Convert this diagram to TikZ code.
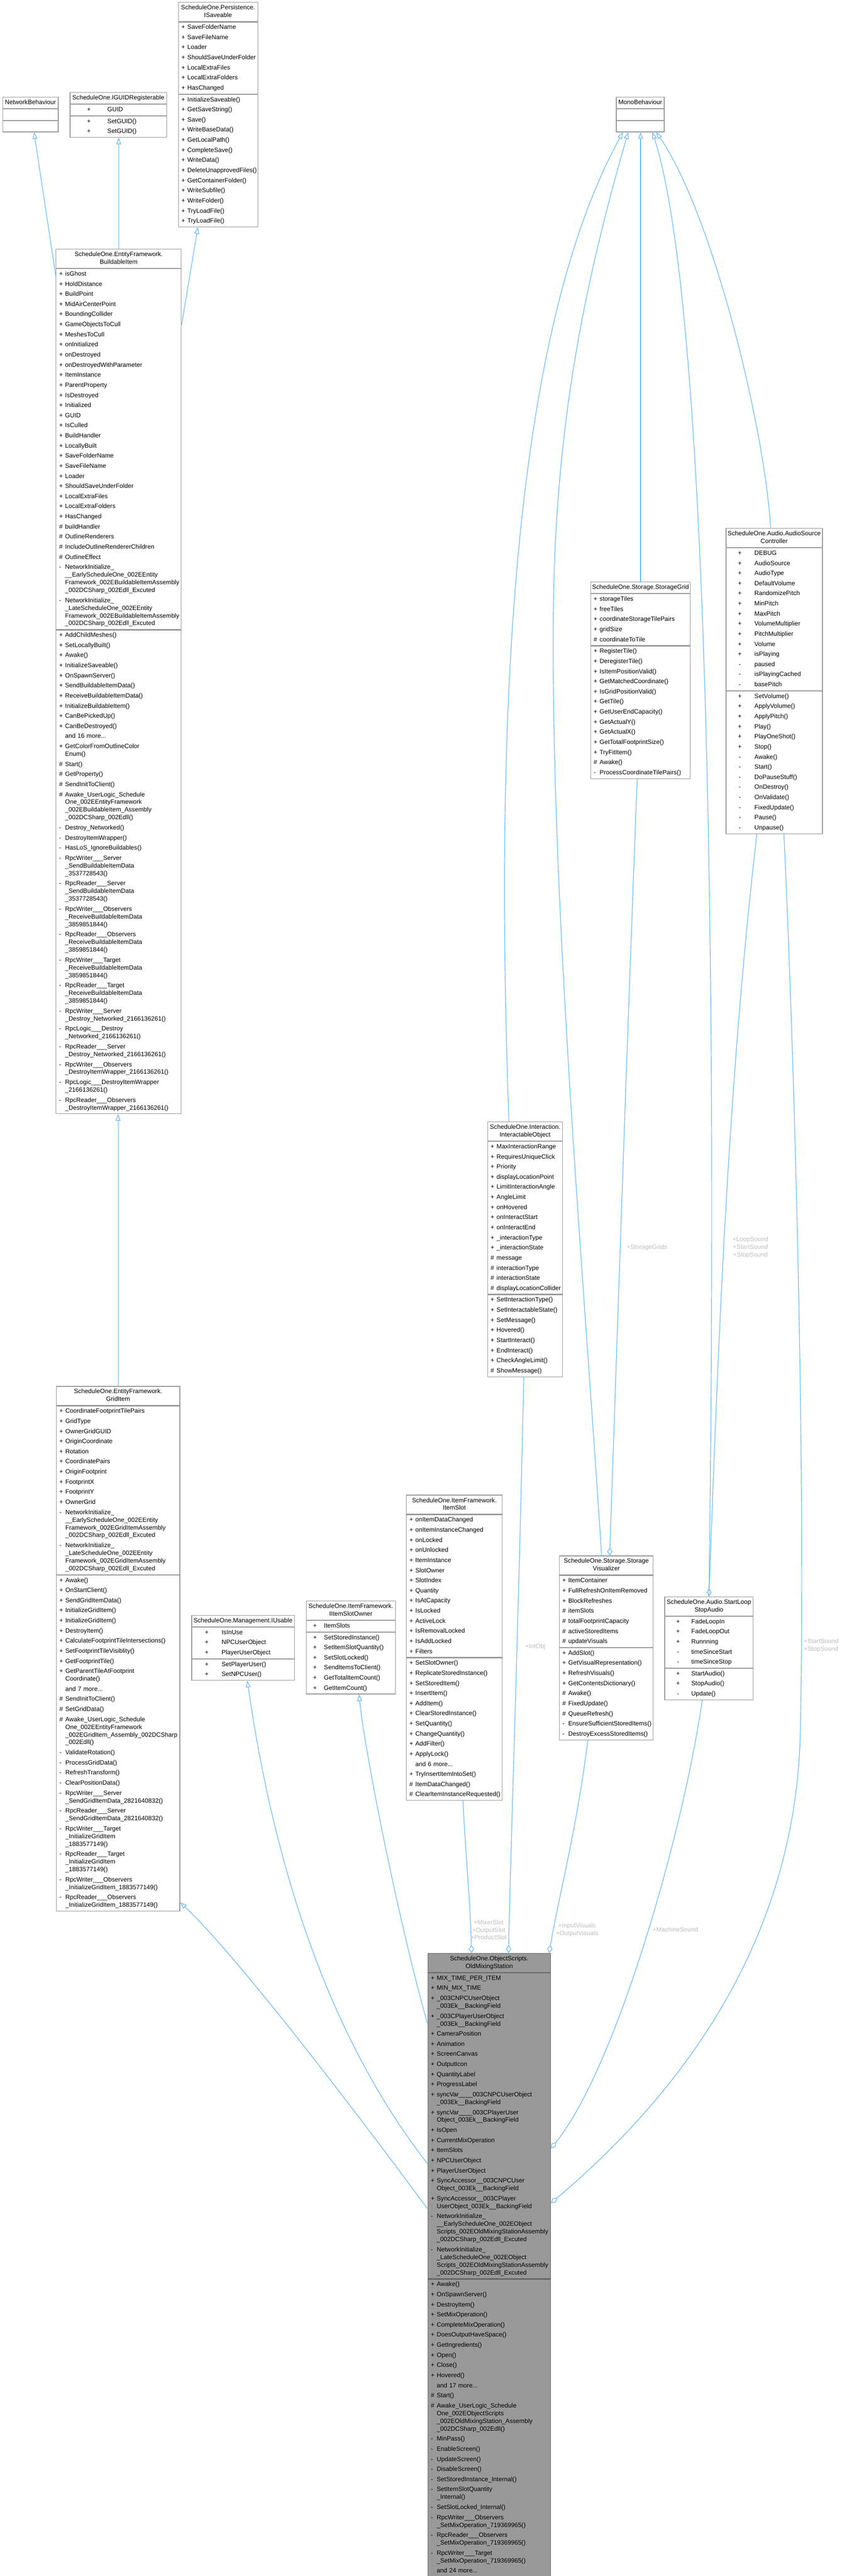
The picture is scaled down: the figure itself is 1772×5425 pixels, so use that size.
\documentclass[tikz,border=0pt]{standalone}
\usepackage{fontspec}
\setmainfont{Liberation Sans}
\usetikzlibrary{arrows.meta,calc}
\definecolor{boxc}{HTML}{999999}
\definecolor{mainb}{HTML}{666666}
\definecolor{mainf}{HTML}{999999}
\definecolor{edgec}{HTML}{63B8FF}
\definecolor{labc}{HTML}{BEBEBE}
\newcommand\bfnt{\fontsize{13.15}{16.2}\selectfont}
\newlength\tmA \newlength\tmB
\newcommand\mE[2]{\mbox{\strut\makebox[12.5pt][l]{#1}#2}}
\newcommand\mC[1]{\mbox{\strut\hspace*{12.5pt}#1}}
\newcommand\mT[2]{\mbox{\strut\hspace*{\tmA}\makebox[0pt][c]{#1}\hspace*{\tmB}#2}}
\newcommand\mN{\\[5.1pt]}
\newcommand\tset[2]{\setlength\tmA{#1pt}\setlength\tmB{#2pt}}
\newcommand\cbox[8][]{%
  \pgfmathsetmacro\twh{#5-4}\pgfmathsetmacro\tws{#5-13}%
  \node[hdr,#1,text width=\twh pt] (#2) at (#3,#4) {#6};
  \node[sec,#1,text width=\tws pt] (#2-a) at (#2.south west) {#7};
  \node[sec,#1,text width=\tws pt] (#2-m) at (#2-a.south west) {#8};}
\begin{document}
\catcode`\_=12
\begin{tikzpicture}[x=1pt,y=-1pt,
  hdr/.style={draw=boxc,fill=white,line width=1.3pt,anchor=north west,inner xsep=2pt,inner ysep=3.85pt,align=center,font=\bfnt},
  sec/.style={draw=boxc,fill=white,line width=1.3pt,anchor=north west,inner xsep=6.5pt,inner ysep=3.55pt,align=left,font=\bfnt},
  mainbox/.style={draw=mainb,fill=mainf},
  inh/.style={draw=edgec,line width=1.3pt,-{Triangle[open,length=14pt,width=10pt,line width=1.3pt]}},
  use/.style={draw=edgec,line width=1.3pt,-{Diamond[open,length=17pt,width=11pt,line width=1.3pt]}},
  elab/.style={font=\bfnt,text=labc,align=center,inner sep=0pt}]
\fill[white] (0,0) rectangle (1772,5425);
\useasboundingbox (0,0) rectangle (1772,5425);

% ---------- top rank ----------
\cbox{nb}{5}{204}{117}{\strut NetworkBehaviour}{\strut}{\strut}
\cbox{guid}{147}{194}{203}{\strut ScheduleOne.IGUIDRegisterable}
 {\tset{33}{39}\mT{+}{GUID}}
 {\tset{33}{39}\mT{+}{SetGUID()}\mN\mT{+}{SetGUID()}}
\cbox{sav}{375}{4.5}{167}{\strut ScheduleOne.Persistence.\\\strut ISaveable}
 {\mE{+}{SaveFolderName}\mN\mE{+}{SaveFileName}\mN\mE{+}{Loader}\mN\mE{+}{ShouldSaveUnderFolder}\mN\mE{+}{LocalExtraFiles}\mN\mE{+}{LocalExtraFolders}\mN\mE{+}{HasChanged}}
 {\mE{+}{InitializeSaveable()}\mN\mE{+}{GetSaveString()}\mN\mE{+}{Save()}\mN\mE{+}{WriteBaseData()}\mN\mE{+}{GetLocalPath()}\mN\mE{+}{CompleteSave()}\mN\mE{+}{WriteData()}\mN\mE{+}{DeleteUnapprovedFiles()}\mN\mE{+}{GetContainerFolder()}\mN\mE{+}{WriteSubfile()}\mN\mE{+}{WriteFolder()}\mN\mE{+}{TryLoadFile()}\mN\mE{+}{TryLoadFile()}}
\cbox{mono}{1297}{204}{101}{\strut MonoBehaviour}{\strut}{\strut}

% ---------- BuildableItem ----------
\cbox{bi}{117.5}{524}{263.5}{\strut ScheduleOne.EntityFramework.\\\strut BuildableItem}
 {\mE{+}{isGhost}\mN\mE{+}{HoldDistance}\mN\mE{+}{BuildPoint}\mN\mE{+}{MidAirCenterPoint}\mN\mE{+}{BoundingCollider}\mN\mE{+}{GameObjectsToCull}\mN\mE{+}{MeshesToCull}\mN\mE{+}{onInitialized}\mN\mE{+}{onDestroyed}\mN\mE{+}{onDestroyedWithParameter}\mN\mE{+}{ItemInstance}\mN\mE{+}{ParentProperty}\mN\mE{+}{IsDestroyed}\mN\mE{+}{Initialized}\mN\mE{+}{GUID}\mN\mE{+}{IsCulled}\mN\mE{+}{BuildHandler}\mN\mE{+}{LocallyBuilt}\mN\mE{+}{SaveFolderName}\mN\mE{+}{SaveFileName}\mN\mE{+}{Loader}\mN\mE{+}{ShouldSaveUnderFolder}\mN\mE{+}{LocalExtraFiles}\mN\mE{+}{LocalExtraFolders}\mN\mE{+}{HasChanged}\mN\mE{\#}{buildHandler}\mN\mE{\#}{OutlineRenderers}\mN\mE{\#}{IncludeOutlineRendererChildren}\mN\mE{\#}{OutlineEffect}\mN\mE{-}{NetworkInitialize_}\\\mC{__EarlyScheduleOne_002EEntity}\\\mC{Framework_002EBuildableItemAssembly}\\\mC{_002DCSharp_002Edll_Excuted}\mN\mE{-}{NetworkInitialize_}\\\mC{_LateScheduleOne_002EEntity}\\\mC{Framework_002EBuildableItemAssembly}\\\mC{_002DCSharp_002Edll_Excuted}}
 {\mE{+}{AddChildMeshes()}\mN\mE{+}{SetLocallyBuilt()}\mN\mE{+}{Awake()}\mN\mE{+}{InitializeSaveable()}\mN\mE{+}{OnSpawnServer()}\mN\mE{+}{SendBuildableItemData()}\mN\mE{+}{ReceiveBuildableItemData()}\mN\mE{+}{InitializeBuildableItem()}\mN\mE{+}{CanBePickedUp()}\mN\mE{+}{CanBeDestroyed()}\mN\mE{}{and 16 more...}\mN\mE{+}{GetColorFromOutlineColor}\\\mC{Enum()}\mN\mE{\#}{Start()}\mN\mE{\#}{GetProperty()}\mN\mE{\#}{SendInitToClient()}\mN\mE{\#}{Awake_UserLogic_Schedule}\\\mC{One_002EEntityFramework}\\\mC{_002EBuildableItem_Assembly}\\\mC{_002DCSharp_002Edll()}\mN\mE{-}{Destroy_Networked()}\mN\mE{-}{DestroyItemWrapper()}\mN\mE{-}{HasLoS_IgnoreBuildables()}\mN\mE{-}{RpcWriter___Server}\\\mC{_SendBuildableItemData}\\\mC{_3537728543()}\mN\mE{-}{RpcReader___Server}\\\mC{_SendBuildableItemData}\\\mC{_3537728543()}\mN\mE{-}{RpcWriter___Observers}\\\mC{_ReceiveBuildableItemData}\\\mC{_3859851844()}\mN\mE{-}{RpcReader___Observers}\\\mC{_ReceiveBuildableItemData}\\\mC{_3859851844()}\mN\mE{-}{RpcWriter___Target}\\\mC{_ReceiveBuildableItemData}\\\mC{_3859851844()}\mN\mE{-}{RpcReader___Target}\\\mC{_ReceiveBuildableItemData}\\\mC{_3859851844()}\mN\mE{-}{RpcWriter___Server}\\\mC{_Destroy_Networked_2166136261()}\mN\mE{-}{RpcLogic___Destroy}\\\mC{_Networked_2166136261()}\mN\mE{-}{RpcReader___Server}\\\mC{_Destroy_Networked_2166136261()}\mN\mE{-}{RpcWriter___Observers}\\\mC{_DestroyItemWrapper_2166136261()}\mN\mE{-}{RpcLogic___DestroyItemWrapper}\\\mC{_2166136261()}\mN\mE{-}{RpcReader___Observers}\\\mC{_DestroyItemWrapper_2166136261()}}

% ---------- StorageGrid ----------
\cbox{sg}{1243}{1225}{210}{\strut ScheduleOne.Storage.StorageGrid}
 {\mE{+}{storageTiles}\mN\mE{+}{freeTiles}\mN\mE{+}{coordinateStorageTilePairs}\mN\mE{+}{gridSize}\mN\mE{\#}{coordinateToTile}}
 {\mE{+}{RegisterTile()}\mN\mE{+}{DeregisterTile()}\mN\mE{+}{IsItemPositionValid()}\mN\mE{+}{GetMatchedCoordinate()}\mN\mE{+}{IsGridPositionValid()}\mN\mE{+}{GetTile()}\mN\mE{+}{GetUserEndCapacity()}\mN\mE{+}{GetActualY()}\mN\mE{+}{GetActualX()}\mN\mE{+}{GetTotalFootprintSize()}\mN\mE{+}{TryFitItem()}\mN\mE{\#}{Awake()}\mN\mE{-}{ProcessCoordinateTilePairs()}}

% ---------- AudioSourceController ----------
\cbox{asc}{1528}{1112}{203}{\strut ScheduleOne.Audio.AudioSource\\\strut Controller}
 {\tset{22.5}{31}\mT{+}{DEBUG}\mN\mT{+}{AudioSource}\mN\mT{+}{AudioType}\mN\mT{+}{DefaultVolume}\mN\mT{+}{RandomizePitch}\mN\mT{+}{MinPitch}\mN\mT{+}{MaxPitch}\mN\mT{+}{VolumeMultiplier}\mN\mT{+}{PitchMultiplier}\mN\mT{+}{Volume}\mN\mT{+}{isPlaying}\mN\mT{-}{paused}\mN\mT{-}{isPlayingCached}\mN\mT{-}{basePitch}}
 {\tset{22.5}{31}\mT{+}{SetVolume()}\mN\mT{+}{ApplyVolume()}\mN\mT{+}{ApplyPitch()}\mN\mT{+}{Play()}\mN\mT{+}{PlayOneShot()}\mN\mT{+}{Stop()}\mN\mT{-}{Awake()}\mN\mT{-}{Start()}\mN\mT{-}{DoPauseStuff()}\mN\mT{-}{OnDestroy()}\mN\mT{-}{OnValidate()}\mN\mT{-}{FixedUpdate()}\mN\mT{-}{Pause()}\mN\mT{-}{Unpause()}}

% ---------- InteractableObject ----------
\cbox{io}{1026}{2362}{158}{\strut ScheduleOne.Interaction.\\\strut InteractableObject}
 {\mE{+}{MaxInteractionRange}\mN\mE{+}{RequiresUniqueClick}\mN\mE{+}{Priority}\mN\mE{+}{displayLocationPoint}\mN\mE{+}{LimitInteractionAngle}\mN\mE{+}{AngleLimit}\mN\mE{+}{onHovered}\mN\mE{+}{onInteractStart}\mN\mE{+}{onInteractEnd}\mN\mE{+}{_interactionType}\mN\mE{+}{_interactionState}\mN\mE{\#}{message}\mN\mE{\#}{interactionType}\mN\mE{\#}{interactionState}\mN\mE{\#}{displayLocationCollider}}
 {\mE{+}{SetInteractionType()}\mN\mE{+}{SetInteractableState()}\mN\mE{+}{SetMessage()}\mN\mE{+}{Hovered()}\mN\mE{+}{StartInteract()}\mN\mE{+}{EndInteract()}\mN\mE{+}{CheckAngleLimit()}\mN\mE{\#}{ShowMessage()}}

% ---------- GridItem ----------
\cbox{gi}{118}{2919}{260}{\strut ScheduleOne.EntityFramework.\\\strut GridItem}
 {\mE{+}{CoordinateFootprintTilePairs}\mN\mE{+}{GridType}\mN\mE{+}{OwnerGridGUID}\mN\mE{+}{OriginCoordinate}\mN\mE{+}{Rotation}\mN\mE{+}{CoordinatePairs}\mN\mE{+}{OriginFootprint}\mN\mE{+}{FootprintX}\mN\mE{+}{FootprintY}\mN\mE{+}{OwnerGrid}\mN\mE{-}{NetworkInitialize_}\\\mC{__EarlyScheduleOne_002EEntity}\\\mC{Framework_002EGridItemAssembly}\\\mC{_002DCSharp_002Edll_Excuted}\mN\mE{-}{NetworkInitialize_}\\\mC{_LateScheduleOne_002EEntity}\\\mC{Framework_002EGridItemAssembly}\\\mC{_002DCSharp_002Edll_Excuted}}
 {\mE{+}{Awake()}\mN\mE{+}{OnStartClient()}\mN\mE{+}{SendGridItemData()}\mN\mE{+}{InitializeGridItem()}\mN\mE{+}{InitializeGridItem()}\mN\mE{+}{DestroyItem()}\mN\mE{+}{CalculateFootprintTileIntersections()}\mN\mE{+}{SetFootprintTileVisiblity()}\mN\mE{+}{GetFootprintTile()}\mN\mE{+}{GetParentTileAtFootprint}\\\mC{Coordinate()}\mN\mE{}{and 7 more...}\mN\mE{\#}{SendInitToClient()}\mN\mE{\#}{SetGridData()}\mN\mE{\#}{Awake_UserLogic_Schedule}\\\mC{One_002EEntityFramework}\\\mC{_002EGridItem_Assembly_002DCSharp}\\\mC{_002Edll()}\mN\mE{-}{ValidateRotation()}\mN\mE{-}{ProcessGridData()}\mN\mE{-}{RefreshTransform()}\mN\mE{-}{ClearPositionData()}\mN\mE{-}{RpcWriter___Server}\\\mC{_SendGridItemData_2821640832()}\mN\mE{-}{RpcReader___Server}\\\mC{_SendGridItemData_2821640832()}\mN\mE{-}{RpcWriter___Target}\\\mC{_InitializeGridItem}\\\mC{_1883577149()}\mN\mE{-}{RpcReader___Target}\\\mC{_InitializeGridItem}\\\mC{_1883577149()}\mN\mE{-}{RpcWriter___Observers}\\\mC{_InitializeGridItem_1883577149()}\mN\mE{-}{RpcReader___Observers}\\\mC{_InitializeGridItem_1883577149()}}

% ---------- IUsable ----------
\cbox{iu}{403}{3401}{216}{\strut ScheduleOne.Management.IUsable}
 {\tset{25}{31.5}\mT{+}{IsInUse}\mN\mT{+}{NPCUserObject}\mN\mT{+}{PlayerUserObject}}
 {\tset{25}{31.5}\mT{+}{SetPlayerUser()}\mN\mT{+}{SetNPCUser()}}

% ---------- IItemSlotOwner ----------
\cbox{iso}{644}{3371}{188}{\strut ScheduleOne.ItemFramework.\\\strut IItemSlotOwner}
 {\tset{12}{19}\mT{+}{ItemSlots}}
 {\tset{12}{19}\mT{+}{SetStoredInstance()}\mN\mT{+}{SetItemSlotQuantity()}\mN\mT{+}{SetSlotLocked()}\mN\mT{+}{SendItemsToClient()}\mN\mT{+}{GetTotalItemCount()}\mN\mT{+}{GetItemCount()}}

% ---------- ItemSlot ----------
\cbox{is}{855}{3148}{202}{\strut ScheduleOne.ItemFramework.\\\strut ItemSlot}
 {\mE{+}{onItemDataChanged}\mN\mE{+}{onItemInstanceChanged}\mN\mE{+}{onLocked}\mN\mE{+}{onUnlocked}\mN\mE{+}{ItemInstance}\mN\mE{+}{SlotOwner}\mN\mE{+}{SlotIndex}\mN\mE{+}{Quantity}\mN\mE{+}{IsAtCapacity}\mN\mE{+}{IsLocked}\mN\mE{+}{ActiveLock}\mN\mE{+}{IsRemovalLocked}\mN\mE{+}{IsAddLocked}\mN\mE{+}{Filters}}
 {\mE{+}{SetSlotOwner()}\mN\mE{+}{ReplicateStoredInstance()}\mN\mE{+}{SetStoredItem()}\mN\mE{+}{InsertItem()}\mN\mE{+}{AddItem()}\mN\mE{+}{ClearStoredInstance()}\mN\mE{+}{SetQuantity()}\mN\mE{+}{ChangeQuantity()}\mN\mE{+}{AddFilter()}\mN\mE{+}{ApplyLock()}\mN\mE{}{and 6 more...}\mN\mE{+}{TryInsertItemIntoSet()}\mN\mE{\#}{ItemDataChanged()}\mN\mE{\#}{ClearItemInstanceRequested()}}

% ---------- StorageVisualizer ----------
\cbox{sv}{1177}{3276}{198}{\strut ScheduleOne.Storage.Storage\\\strut Visualizer}
 {\mE{+}{ItemContainer}\mN\mE{+}{FullRefreshOnItemRemoved}\mN\mE{+}{BlockRefreshes}\mN\mE{\#}{itemSlots}\mN\mE{\#}{totalFootprintCapacity}\mN\mE{\#}{activeStoredItems}\mN\mE{\#}{updateVisuals}}
 {\mE{+}{AddSlot()}\mN\mE{+}{GetVisualRepresentation()}\mN\mE{+}{RefreshVisuals()}\mN\mE{+}{GetContentsDictionary()}\mN\mE{\#}{Awake()}\mN\mE{\#}{FixedUpdate()}\mN\mE{\#}{QueueRefresh()}\mN\mE{-}{EnsureSufficientStoredItems()}\mN\mE{-}{DestroyExcessStoredItems()}}

% ---------- StartLoopStopAudio ----------
\cbox{sl}{1399}{3362}{186}{\strut ScheduleOne.Audio.StartLoop\\\strut StopAudio}
 {\tset{21.5}{28}\mT{+}{FadeLoopIn}\mN\mT{+}{FadeLoopOut}\mN\mT{+}{Runnning}\mN\mT{-}{timeSinceStart}\mN\mT{-}{timeSinceStop}}
 {\tset{21.5}{28}\mT{+}{StartAudio()}\mN\mT{+}{StopAudio()}\mN\mT{-}{Update()}}

% ---------- OldMixingStation (main) ----------
\cbox[mainbox]{ms}{900}{4113}{259}{\strut ScheduleOne.ObjectScripts.\\\strut OldMixingStation}
 {\mE{+}{MIX_TIME_PER_ITEM}\mN\mE{+}{MIN_MIX_TIME}\mN\mE{+}{_003CNPCUserObject}\\\mC{_003Ek__BackingField}\mN\mE{+}{_003CPlayerUserObject}\\\mC{_003Ek__BackingField}\mN\mE{+}{CameraPosition}\mN\mE{+}{Animation}\mN\mE{+}{ScreenCanvas}\mN\mE{+}{OutputIcon}\mN\mE{+}{QuantityLabel}\mN\mE{+}{ProgressLabel}\mN\mE{+}{syncVar____003CNPCUserObject}\\\mC{_003Ek__BackingField}\mN\mE{+}{syncVar____003CPlayerUser}\\\mC{Object_003Ek__BackingField}\mN\mE{+}{IsOpen}\mN\mE{+}{CurrentMixOperation}\mN\mE{+}{ItemSlots}\mN\mE{+}{NPCUserObject}\mN\mE{+}{PlayerUserObject}\mN\mE{+}{SyncAccessor__003CNPCUser}\\\mC{Object_003Ek__BackingField}\mN\mE{+}{SyncAccessor__003CPlayer}\\\mC{UserObject_003Ek__BackingField}\mN\mE{-}{NetworkInitialize_}\\\mC{__EarlyScheduleOne_002EObject}\\\mC{Scripts_002EOldMixingStationAssembly}\\\mC{_002DCSharp_002Edll_Excuted}\mN\mE{-}{NetworkInitialize_}\\\mC{_LateScheduleOne_002EObject}\\\mC{Scripts_002EOldMixingStationAssembly}\\\mC{_002DCSharp_002Edll_Excuted}}
 {\mE{+}{Awake()}\mN\mE{+}{OnSpawnServer()}\mN\mE{+}{DestroyItem()}\mN\mE{+}{SetMixOperation()}\mN\mE{+}{CompleteMixOperation()}\mN\mE{+}{DoesOutputHaveSpace()}\mN\mE{+}{GetIngredients()}\mN\mE{+}{Open()}\mN\mE{+}{Close()}\mN\mE{+}{Hovered()}\mN\mE{}{and 17 more...}\mN\mE{\#}{Start()}\mN\mE{\#}{Awake_UserLogic_Schedule}\\\mC{One_002EObjectScripts}\\\mC{_002EOldMixingStation_Assembly}\\\mC{_002DCSharp_002Edll()}\mN\mE{-}{MinPass()}\mN\mE{-}{EnableScreen()}\mN\mE{-}{UpdateScreen()}\mN\mE{-}{DisableScreen()}\mN\mE{-}{SetStoredInstance_Internal()}\mN\mE{-}{SetItemSlotQuantity}\\\mC{_Internal()}\mN\mE{-}{SetSlotLocked_Internal()}\mN\mE{-}{RpcWriter___Observers}\\\mC{_SetMixOperation_719369965()}\mN\mE{-}{RpcReader___Observers}\\\mC{_SetMixOperation_719369965()}\mN\mE{-}{RpcWriter___Target}\\\mC{_SetMixOperation_719369965()}\mN\mE{}{and 24 more...}}

% ---------- inheritance edges ----------
\draw[inh] ($(bi-a.north west)+(0,16)$) -- ($(nb-m.south)+(7.5,0)$);
\draw[inh] (bi.north) -- (bi.north |- guid-m.south);
\draw[inh] ($(bi-a.north east)+(0,119)$) -- ($(sav-m.south)+(-42.5,0)$);
\draw[inh] ($(io.north)+(-34,0)$) .. controls (1040,1500) and (1080,700) .. ($(mono-m.south)+(-36.5,0)$);
\draw[inh] ($(sv.north)+(-10,0)$) .. controls (1230,2700) and (1160,1900) .. (1165,1300) .. controls (1168,900) and (1230,600) .. ($(mono-m.south)+(-25.5,0)$);
\draw[inh] (sg.north) -- (sg.north |- mono-m.south);
\draw[inh] (sl.north) .. controls (1505,2500) and (1510,700) .. ($(mono-m.south)+(25.5,0)$);
\draw[inh] ($(asc.north)+(-7.5,0)$) .. controls (1610,900) and (1500,450) .. ($(mono-m.south)+(33.5,0)$);
\draw[inh] ($(ms-a.north west)+(0,107)$) .. controls (840,4050) and (770,3700) .. ($(iso-m.south)+(17,0)$);
\draw[inh] ($(ms-a.north west)+(0,402)$) .. controls (700,4300) and (580,3950) .. ($(iu-m.south)+(9,0)$);
\draw[inh] ($(ms-a.north west)+(0,497)$) .. controls (700,4380) and (480,4100) .. ($(gi-m.south east)+(0,-19)$);
\draw[inh] (gi.north) -- (gi.north |- bi-m.south);

% ---------- usage edges ----------
\draw[use] ($(sg-m.south)+(-7,0)$) .. controls (1320,2200) and (1300,2800) .. ($(sv.north)+(7,0)$);
\draw[use] ($(asc-m.south)+(-36.5,0)$) .. controls (1530,2300) and (1510,2900) .. (sl.north);
\draw[use] ($(asc-m.south)+(20.5,0)$) .. controls (1680,2400) and (1695,3200) .. (1685,3650) .. controls (1675,4100) and (1420,4420) .. ($(ms-a.north east)+(0,485)$);
\draw[use] ($(sl-m.south)+(-14,0)$) .. controls (1440,3850) and (1300,4350) .. ($(ms-a.north east)+(0,370)$);
\draw[use] ($(sv-m.south)+(-39,0)$) .. controls (1215,3850) and (1175,4000) .. ($(ms.north east)+(-4,0)$);
\draw[use] ($(io-m.south)+(-3,0)$) .. controls (1095,3300) and (1075,3900) .. ($(ms.north)+(40.5,0)$);
\draw[use] ($(is-m.south)+(18,0)$) .. controls (980,3900) and (990,4000) .. ($(ms.north)+(-37.5,0)$);

% ---------- edge labels ----------
\node[elab] (l-sg) at (1362,2627) {+StorageGrids};
\node[elab] (l-asl) at (1580,2627) {+LoopSound\\+StartSound\\+StopSound};
\node[elab] (l-ams) at (1729,3465) {+StartSound\\+StopSound};
\node[elab] (l-io) at (1127,3468) {+IntObj};
\node[elab] (l-is) at (1029,4064) {+MixerSlot\\+OutputSlot\\+ProductSlot};
\node[elab] (l-sv) at (1215,4064) {+InputVisuals\\+OutputVisuals};
\node[elab] (l-sl) at (1422,4063) {+MachineSound};
\end{tikzpicture}
\end{document}
